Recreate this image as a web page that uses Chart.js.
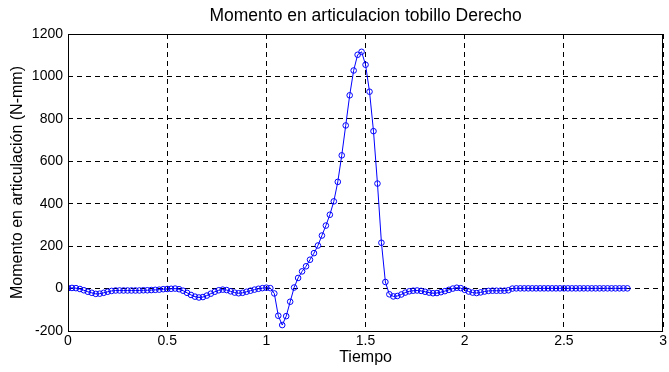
<!DOCTYPE html>
<html>
<head>
<meta charset="utf-8">
<script src="https://cdn.jsdelivr.net/npm/chart.js@4.4.0/dist/chart.umd.min.js"></script>
<style>
  html, body { margin: 0; padding: 0; background: #fff; }
  canvas { display: block; }
</style>
</head>
<body>
<canvas id="chart" width="669" height="372"></canvas>
<script>
// sampled every 0.02 s, starting at t = 0
const sampleStep = 0.02;
const moment = [
    2, 3, 2, -2, -8, -15, -20, -25, -24, -20,
    -15, -11, -9, -9, -9, -9, -9, -9, -9, -8,
    -8, -7, -6, -5, -3, -2, -1, 0, -3, -10,
    -20, -30, -38, -42, -40, -33, -24, -15, -8, -5,
    -7, -13, -19, -22, -20, -15, -10, -5, -1, 2,
    4, 2, -23, -128, -172, -130, -62, 5, 50, 81,
    105, 136, 167, 203, 250, 297, 348, 411, 503, 628,
    769, 911, 1028, 1102, 1116, 1055, 928, 742, 495, 216,
    31, -27, -37, -35, -28, -19, -13, -10, -9, -11,
    -15, -19, -22, -21, -17, -12, -6, 0, 4, 2,
    -6, -14, -19, -21, -18, -14, -11, -10, -10, -10,
    -10, -8, 0, 1, 1, 1, 1, 1, 1, 1,
    1, 1, 1, 1, 1, 1, 1, 1, 1, 1,
    1, 1, 1, 1, 1, 1, 1, 1, 1, 1,
    1, 1
];
const xTicks = [0, 0.5, 1, 1.5, 2, 2.5, 3];
const yTicks = [-200, 0, 200, 400, 600, 800, 1000, 1200];

const titleText = "Momento en articulacion tobillo Derecho";
const xLabel = "Tiempo";
const yLabel = "Momento en articulación (N-mm)";

const FONT = "'Liberation Sans', Arial, Helvetica, sans-serif";

const points = moment.map((v, i) => ({ x: +(i * sampleStep).toFixed(2), y: v }));

// solid box around the plot area, plus the title centred over the axes (matlab style)
const frame = {
    id: "frame",
    afterDraw(c) {
        const a = c.chartArea;
        const ctx = c.ctx;
        ctx.save();
        ctx.strokeStyle = "#000";
        ctx.lineWidth = 1;
        ctx.setLineDash([]);
        ctx.strokeRect(Math.round(a.left) + 0.5, Math.round(a.top) + 0.5,
            Math.round(a.right - a.left) - 1, Math.round(a.bottom - a.top));

        ctx.fillStyle = "#000";
        ctx.font = "17.5px " + FONT;
        ctx.textAlign = "center";
        ctx.textBaseline = "middle";
        ctx.fillText(titleText, (a.left + a.right) / 2, 16.5);
        ctx.restore();
    }
};

const ctx = document.getElementById("chart").getContext("2d");
new Chart(ctx, {
    type: "scatter",
    data: {
        datasets: [{
            data: points,
            showLine: true,
            borderColor: "#0000ff",
            borderWidth: 1,
            pointRadius: 2.8,
            pointBorderWidth: 1,
            pointBorderColor: "#0000ff",
            pointBackgroundColor: "rgba(0,0,0,0)",
            tension: 0
        }]
    },
    options: {
        responsive: false,
        animation: false,
        layout: { padding: { left: 0, right: 5, top: 34, bottom: 0 } },
        plugins: {
            legend: { display: false },
            tooltip: { enabled: false },
            title: { display: false }
        },
        scales: {
            x: {
                type: "linear",
                min: 0,
                max: 3,
                afterBuildTicks: s => { s.ticks = xTicks.map(v => ({ value: v })); },
                afterFit: s => { s.height = 41; },
                ticks: {
                    color: "#000",
                    padding: 2,
                    maxRotation: 0,
                    font: { family: FONT, size: 14 },
                    callback: v => String(v)
                },
                grid: { color: "#000", lineWidth: 1, drawTicks: false },
                border: { display: false, dash: [5, 4] },
                title: {
                    display: true,
                    text: xLabel,
                    color: "#000",
                    font: { family: FONT, size: 16 },
                    padding: { top: 0, bottom: 5 }
                }
            },
            y: {
                min: -200,
                max: 1200,
                afterBuildTicks: s => { s.ticks = yTicks.map(v => ({ value: v })); },
                afterFit: s => { s.width = 68; },
                ticks: {
                    color: "#000",
                    padding: 5,
                    font: { family: FONT, size: 14 },
                    callback: v => String(v)
                },
                grid: { color: "#000", lineWidth: 1, drawTicks: false },
                border: { display: false, dash: [5, 4] },
                title: {
                    display: true,
                    text: yLabel,
                    color: "#000",
                    font: { family: FONT, size: 16 },
                    padding: { top: 8, bottom: 0 }
                }
            }
        }
    },
    plugins: [frame]
});
</script>
</body>
</html>
